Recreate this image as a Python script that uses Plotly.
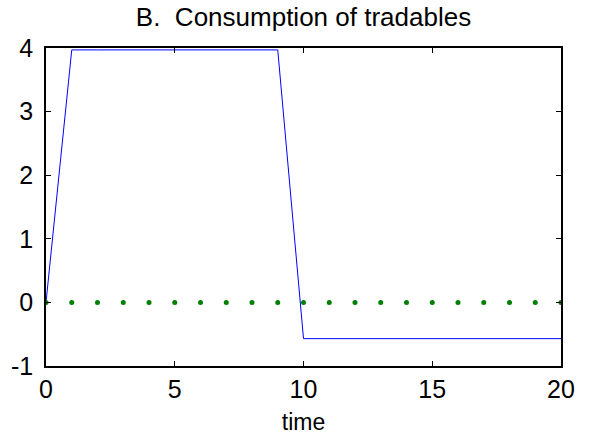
import plotly.graph_objects as go

time = list(range(0, 21))
consumption = [0.0] + [3.97] * 9 + [-0.57] * 11
baseline = [0.0] * 21
x_ticks = [0, 5, 10, 15, 20]
y_ticks = [-1, 0, 1, 2, 3, 4]

FONT = "Liberation Sans, Arial"

fig = go.Figure()
fig.add_trace(go.Scatter(x=time, y=consumption, mode="lines",
                         line=dict(color="#0000ff", width=1)))
fig.add_trace(go.Scatter(x=time, y=baseline, mode="markers",
                         marker=dict(color="#008000", size=5)))

axis_common = dict(showgrid=False, zeroline=False, showline=True, linecolor="black",
                   linewidth=1.5, mirror="ticks", ticks="inside", ticklen=5, automargin=False,
                   tickcolor="black", tickfont=dict(family=FONT, size=25, color="black"))
fig.update_xaxes(range=[0, 20], tickvals=x_ticks, ticktext=[str(v) for v in x_ticks],
                 ticklabelstandoff=0,
                 title=dict(text="time", font=dict(family=FONT, size=23, color="black"), standoff=12),
                 **axis_common)
fig.update_yaxes(range=[-1, 4], tickvals=y_ticks, ticktext=[str(v) for v in y_ticks],
                 ticklabelstandoff=6, **axis_common)
fig.update_layout(
    width=589, height=441, showlegend=False,
    plot_bgcolor="white", paper_bgcolor="white",
    margin=dict(l=46, r=28, t=48, b=75),
    title=dict(text="B.  Consumption of tradables", x=(135 + 472) / 2 / 589, xanchor="center",
               y=1 - 17/441, yanchor="middle",
               font=dict(family=FONT, size=26, color="black")),
)
fig.write_html("out.html")
